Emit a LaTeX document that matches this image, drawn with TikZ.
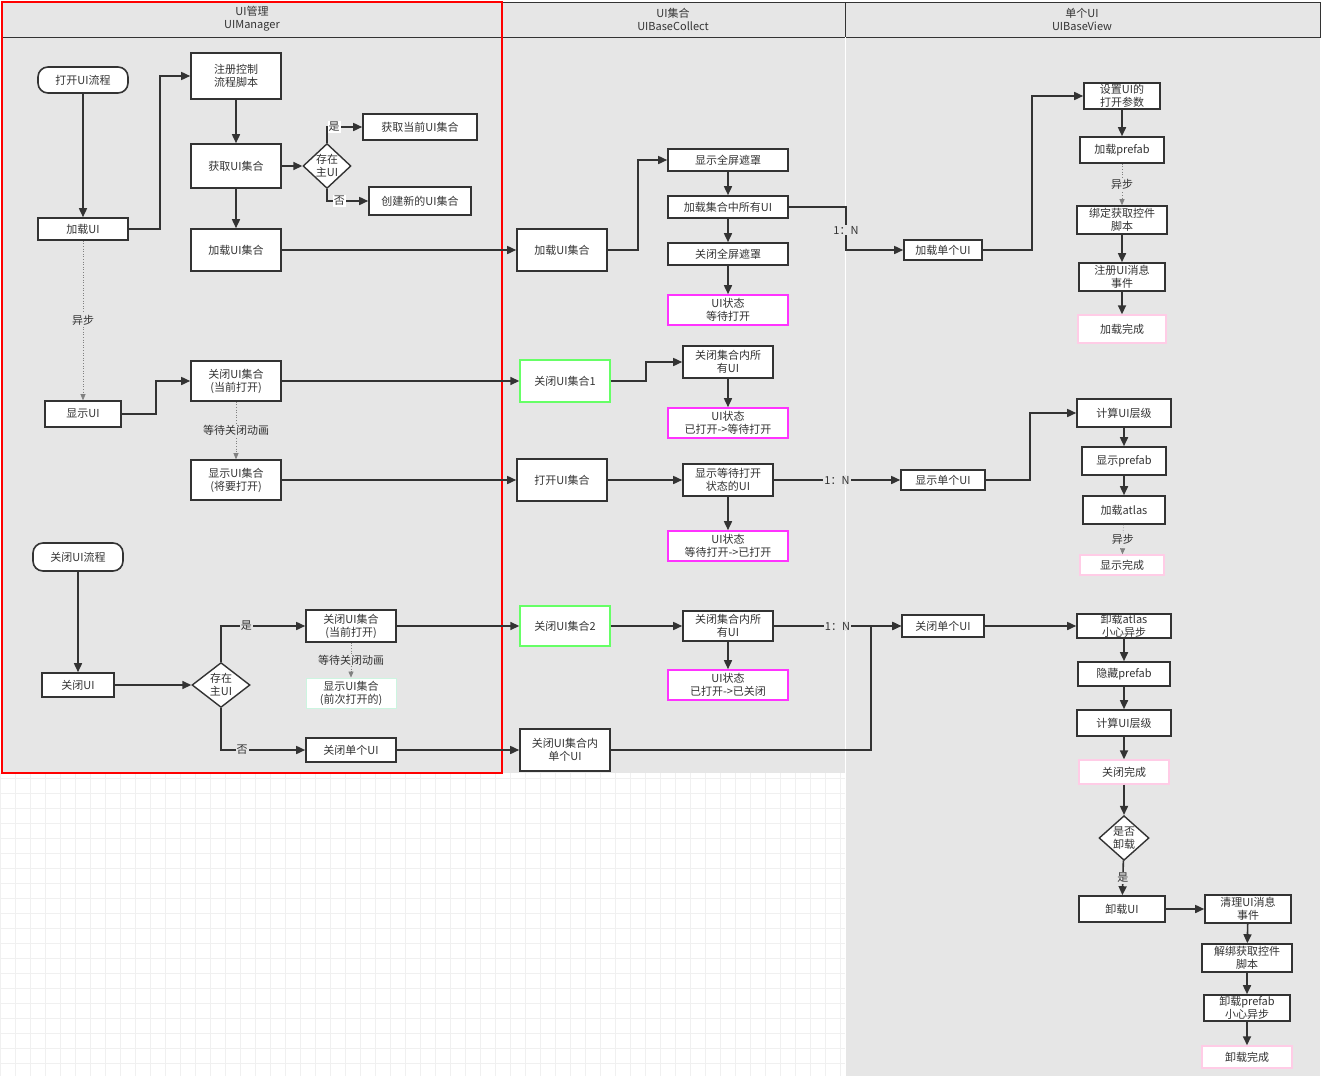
\documentclass[tikz,border=0pt]{standalone}
\usepackage{fontspec}
\setmainfont{Noto Sans CJK SC}
\usetikzlibrary{shapes.geometric,arrows.meta}
\definecolor{lanebg}{HTML}{E6E6E6}
\definecolor{txt}{HTML}{333333}
\definecolor{mag}{HTML}{FF33FF}
\definecolor{pk}{HTML}{FFCCE6}
\definecolor{gr}{HTML}{66FF66}
\definecolor{lgr}{HTML}{CCF5E0}
\begin{document}
\begin{tikzpicture}[x=1pt,y=-1pt,
  every node/.style={font=\fontsize{11}{13}\selectfont,text=txt,align=center,inner sep=0pt},
  box/.style={draw=txt,line width=1.6pt,fill=white,minimum width=#1,rectangle},
  box/.default=90pt,
  rnd/.style={box,rounded corners=10pt},
  dia/.style={diamond,draw=txt,line width=1.4pt,fill=white,aspect=1},
  mbox/.style={draw=mag,line width=1.6pt,fill=white,minimum width=120pt,minimum height=30pt},
  pbox/.style={draw=pk,line width=1.4pt,fill=white,minimum height=26pt},
  gbox/.style={draw=gr,line width=1.4pt,fill=white,minimum width=90pt,minimum height=42pt},
  ar/.style={draw=txt,line width=1.6pt,-{Triangle[length=9pt,width=8pt]}},
  dar/.style={draw=gray,line width=0.6pt,dotted,-{Triangle[length=6pt,width=5pt]}},
  lab/.style={fill=white,inner sep=1pt}]
\useasboundingbox (0,0) rectangle (1322,1076);
\fill[white] (0,0) rectangle (1322,1076);
% grid
\foreach \x in {0,15,...,845} \draw[gray!12,line width=0.4pt] (\x,773) -- (\x,1076);
\foreach \y in {778,793,...,1076} \draw[gray!12,line width=0.4pt] (0,\y) -- (845,\y);
% lanes
\fill[lanebg] (2,2) rectangle (845,773);
\fill[lanebg] (845,2) rectangle (1320,1076);
\draw[txt,line width=0.8pt] (2,2) rectangle (1320,37);
\draw[txt,line width=0.8pt] (502,2) -- (502,37) (845,2) -- (845,37);
\draw[white,line width=1pt] (845,37) -- (845,1076);
\node at (252,19) {UI管理\\UIManager};
\node at (673,19) {UI集合\\UIBaseCollect};
\node at (1082,19) {单个UI\\UIBaseView};
\draw[red,line width=1.2pt] (2,2) rectangle (502,773);
% lane1 nodes
\node[rnd,minimum width=90pt,minimum height=26pt] (s1) at (83,80) {打开UI流程};
\node[box,minimum height=22pt] (ld) at (83,229) {加载UI};
\node[box,minimum height=46pt] (reg) at (236,76) {注册控制\\流程脚本};
\node[box,minimum height=44pt] (get) at (236,166) {获取UI集合};
\node[dia,minimum width=48pt] (d1) at (327,166) {存在\\主UI};
\node[box=114pt,minimum height=26pt] (cur) at (420,127) {获取当前UI集合};
\node[box=102pt,minimum height=28pt] (new) at (420,201) {创建新的UI集合};
\node[box,minimum height=42pt] (lset) at (236,250) {加载UI集合};
\node[box=76pt,minimum height=26pt] (show) at (83,414) {显示UI};
\node[box,minimum height=40pt] (cset) at (236,381) {关闭UI集合\\(当前打开)};
\node[box,minimum height=40pt] (sset) at (236,480) {显示UI集合\\(将要打开)};
\node[rnd,minimum width=90pt,minimum height=28pt] (s2) at (78,557) {关闭UI流程};
\node[box=72pt,minimum height=24pt] (cui) at (78,685) {关闭UI};
\node[dia,minimum width=58pt] (d2) at (221,685) {存在\\主UI};
\node[box,minimum height=32pt] (cs2) at (351,626) {关闭UI集合\\(当前打开)};
\node[draw=lgr,line width=1pt,fill=white,minimum width=90pt,minimum height=30pt] (ss2) at (351,693) {显示UI集合\\(前次打开的)};
\node[box,minimum height=24pt] (csg) at (351,750) {关闭单个UI};
% lane2 nodes
\node[box,minimum height=42pt] (bl) at (562,250) {加载UI集合};
\node[box=120pt,minimum height=22pt] (mask) at (728,160) {显示全屏遮罩};
\node[box=120pt,minimum height=22pt] (lall) at (728,207) {加载集合中所有UI};
\node[box=120pt,minimum height=22pt] (umask) at (728,254) {关闭全屏遮罩};
\node[mbox] (st1) at (728,310) {UI状态\\等待打开};
\node[gbox] (c1) at (565,381) {关闭UI集合1};
\node[box,minimum height=32pt] (ca1) at (728,362) {关闭集合内所\\有UI};
\node[mbox] (st2) at (728,423) {UI状态\\已打开->等待打开};
\node[box,minimum height=42pt] (op) at (562,480) {打开UI集合};
\node[box,minimum height=32pt] (sw) at (728,480) {显示等待打开\\状态的UI};
\node[mbox] (st3) at (728,546) {UI状态\\等待打开->已打开};
\node[gbox,minimum height=40pt] (c2) at (565,626) {关闭UI集合2};
\node[box,minimum height=30pt] (ca2) at (728,626) {关闭集合内所\\有UI};
\node[mbox] (st4) at (728,685) {UI状态\\已打开->已关闭};
\node[box,minimum height=42pt] (ci) at (565,750) {关闭UI集合内\\单个UI};
% lane3 nodes
\node[box=78pt,minimum height=20pt] (ls) at (943,250) {加载单个UI};
\node[box=76pt,minimum height=26pt] (setp) at (1122,96) {设置UI的\\打开参数};
\node[box=84pt,minimum height=26pt] (pf) at (1122,150) {加载prefab};
\node[box,minimum height=28pt] (bind) at (1122,220) {绑定获取控件\\脚本};
\node[box=86pt,minimum height=28pt] (reg2) at (1122,277) {注册UI消息\\事件};
\node[pbox,minimum width=88pt,minimum height=28pt] (dn1) at (1122,329) {加载完成};
\node[box=84pt,minimum height=20pt] (ssg) at (943,480) {显示单个UI};
\node[box=94pt,minimum height=28pt] (ly1) at (1124,413) {计算UI层级};
\node[box=84pt,minimum height=28pt] (sp) at (1124,461) {显示prefab};
\node[box=82pt,minimum height=28pt] (at) at (1124,510) {加载atlas};
\node[pbox,minimum width=84pt,minimum height=20pt] (dn2) at (1122,565) {显示完成};
\node[box=82pt,minimum height=22pt] (csi) at (943,626) {关闭单个UI};
\node[box=94pt,minimum height=24pt] (ua) at (1124,626) {卸载atlas\\小心异步};
\node[box=92pt,minimum height=24pt] (hd) at (1124,674) {隐藏prefab};
\node[box=94pt,minimum height=26pt] (ly2) at (1124,723) {计算UI层级};
\node[pbox,minimum width=90pt,minimum height=24pt] (dn3) at (1124,772) {关闭完成};
\node[dia,minimum width=50pt] (d3) at (1124,838) {是否\\卸载};
\node[box=86pt,minimum height=26pt] (ul) at (1122,909) {卸载UI};
\node[box=86pt,minimum height=28pt] (cl) at (1248,909) {清理UI消息\\事件};
\node[box,minimum height=28pt] (ub) at (1247,958) {解绑获取控件\\脚本};
\node[box=86pt,minimum height=26pt] (up) at (1247,1008) {卸载prefab\\小心异步};
\node[pbox,minimum width=90pt,minimum height=22pt] (dn4) at (1247,1057) {卸载完成};
% edges lane1
\draw[ar] (s1) -- (ld);
\draw[ar] (ld.east) -- (160,229) -- (160,76) -- (reg.west);
\draw[ar] (reg) -- (get);
\draw[ar] (get) -- (d1);
\draw[ar] (d1.north) -- (327,127) -- (cur.west) node[lab,pos=0.2] {是};
\draw[ar] (d1.south) -- (327,201) -- (new.west) node[lab,pos=0.3] {否};
\draw[ar] (get) -- (lset);
\draw[ar] (lset) -- (bl);
\draw[dar] (ld) -- (show) node[lab,midway,fill=lanebg] {异步};
\draw[ar] (show.east) -- (156,414) -- (156,381) -- (cset.west);
\draw[dar] (cset) -- (sset) node[lab,midway,fill=lanebg] {等待关闭动画};
\draw[ar] (cset) -- (c1);
\draw[ar] (sset) -- (op);
\draw[ar] (s2) -- (cui);
\draw[ar] (cui) -- (d2);
\draw[ar] (d2.north) -- (221,626) -- (cs2.west) node[lab,pos=0.3,fill=lanebg] {是};
\draw[ar] (d2.south) -- (221,750) -- (csg.west) node[lab,pos=0.25,fill=lanebg] {否};
\draw[dar] (cs2) -- (ss2) node[lab,midway,fill=lanebg] {等待关闭动画};
\draw[ar] (cs2) -- (c2);
\draw[ar] (csg) -- (ci);
% lane2
\draw[ar] (bl.east) -- (638,250) -- (638,160) -- (mask.west);
\draw[ar] (mask) -- (lall);
\draw[ar] (lall) -- (umask);
\draw[ar] (umask) -- (st1);
\draw[ar] (lall.east) -- (846,207) -- (846,250) -- (ls.west);
\node[lab,fill=lanebg] at (846,230) {1：N};
\draw[ar] (c1.east) -- (646,381) -- (646,362) -- (ca1.west);
\draw[ar] (ca1) -- (st2);
\draw[ar] (op) -- (sw);
\draw[ar] (sw) -- (st3);
\draw[ar] (sw) -- (ssg) node[lab,midway,fill=lanebg] {1：N};
\draw[ar] (c2) -- (ca2);
\draw[ar] (ca2) -- (st4);
\draw[ar] (ca2) -- (csi) node[lab,midway,fill=lanebg] {1：N};
\draw[ar] (ci.east) -- (871,750) -- (871,626) -- (csi.west);
% lane3
\draw[ar] (ls.east) -- (1032,250) -- (1032,96) -- (setp.west);
\draw[ar] (setp) -- (pf);
\draw[dar] (pf) -- (bind) node[lab,midway,fill=lanebg] {异步};
\draw[ar] (bind) -- (reg2);
\draw[ar] (reg2) -- (dn1);
\draw[ar] (ssg.east) -- (1030,480) -- (1030,413) -- (ly1.west);
\draw[ar] (ly1) -- (sp);
\draw[ar] (sp) -- (at);
\draw[dar] (at) -- (dn2) node[lab,midway,fill=lanebg] {异步};
\draw[ar] (csi) -- (ua);
\draw[ar] (ua) -- (hd);
\draw[ar] (hd) -- (ly2);
\draw[ar] (ly2) -- (dn3);
\draw[ar] (dn3) -- (d3);
\draw[ar] (d3) -- (ul) node[lab,midway,fill=lanebg] {是};
\draw[ar] (ul) -- (cl);
\draw[ar] (cl) -- (ub);
\draw[ar] (ub) -- (up);
\draw[ar] (up) -- (dn4);
\end{tikzpicture}
\end{document}
